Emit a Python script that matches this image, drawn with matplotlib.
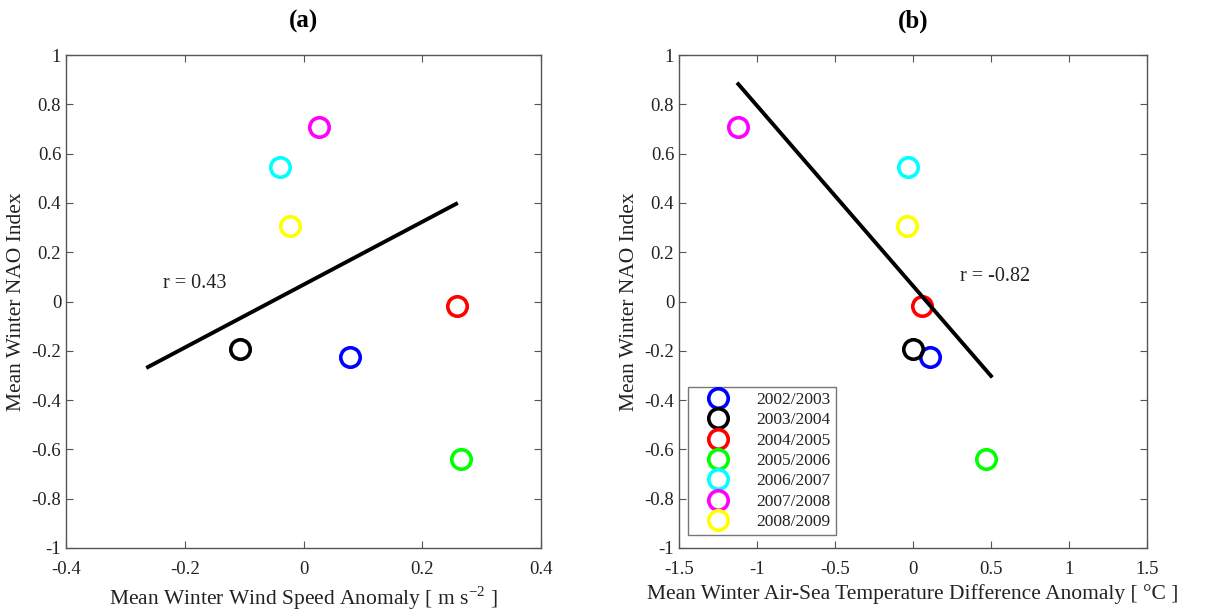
import matplotlib
matplotlib.use("Agg")
import matplotlib.pyplot as plt
import numpy as np

plt.rcParams['font.family'] = ['Liberation Serif', 'DejaVu Serif']
plt.rcParams['mathtext.fontset'] = 'custom'
plt.rcParams['mathtext.rm'] = 'Liberation Serif'

seasons = ["2002/2003", "2003/2004", "2004/2005", "2005/2006",
           "2006/2007", "2007/2008", "2008/2009"]
colors = ["#0000ff", "#000000", "#ff0000", "#00ff00", "#00ffff", "#ff00ff", "#ffff00"]
nao = [-0.224, -0.193, -0.018, -0.640, 0.545, 0.709, 0.305]
wind_anom = [0.079, -0.107, 0.258, 0.266, -0.039, 0.026, -0.022]
temp_anom = [0.11, 0.00, 0.055, 0.47, -0.03, -1.12, -0.04]

fit_a_x = [-0.262, 0.257]
fit_a_y = [-0.266, 0.396]
fit_b_x = [-1.12, 0.50]
fit_b_y = [0.882, -0.302]

W, H = 1207, 612
fig = plt.figure(figsize=(W / 100, H / 100), dpi=100)
ax1 = fig.add_axes([66 / W, 1 - 548 / H, (541 - 66) / W, (548 - 55) / H])
ax2 = fig.add_axes([679 / W, 1 - 548 / H, (1147 - 679) / W, (548 - 55) / H])

def style(ax):
    for s in ax.spines.values():
        s.set_color('#555555')
        s.set_linewidth(1.0)
    ax.tick_params(direction='in', top=True, right=True, length=5,
                   color='#555555', labelsize=13.5, labelcolor='#222222')
    ax.tick_params(axis='x', pad=9)
    ax.set_ylim(-1, 1)
    ax.set_yticks(np.arange(-1, 1.01, 0.2))
    ax.set_yticklabels(['-1', '-0.8', '-0.6', '-0.4', '-0.2', '0', '0.2', '0.4', '0.6', '0.8', '1'])

ms = 14
mew = 2.6

# Panel (a)
for xv, yv, c, lab in zip(wind_anom, nao, colors, seasons):
    ax1.plot(xv, yv, 'o', ms=ms, mfc='none', mec=c, mew=mew, label=lab)
ax1.plot(fit_a_x, fit_a_y, color='black', lw=2.8)
ax1.set_xlim(-0.4, 0.4)
ax1.set_xticks([-0.4, -0.2, 0, 0.2, 0.4])
ax1.set_xticklabels(['-0.4', '-0.2', '0', '0.2', '0.4'])
style(ax1)
ax1.text(-0.237, 0.075, 'r = 0.43', fontsize=14.5, color='#222222', va='center', ha='left')
ax1.set_xlabel('Mean Winter Wind Speed Anomaly [ m s$^{-2}$ ]', fontsize=15.5, color='#222222', labelpad=5)
ax1.set_ylabel('Mean Winter NAO Index', fontsize=15.5, color='#222222')
ax1.set_title('(a)', fontsize=18, fontweight='bold', pad=20)

# Panel (b)
handles = []
for xv, yv, c, lab in zip(temp_anom, nao, colors, seasons):
    h, = ax2.plot(xv, yv, 'o', ms=ms, mfc='none', mec=c, mew=mew, label=lab)
    handles.append(h)
ax2.plot(fit_b_x, fit_b_y, color='black', lw=2.8)
ax2.set_xlim(-1.5, 1.5)
ax2.set_xticks([-1.5, -1, -0.5, 0, 0.5, 1, 1.5])
ax2.set_xticklabels(['-1.5', '-1', '-0.5', '0', '0.5', '1', '1.5'])
style(ax2)
ax2.text(0.30, 0.10, 'r = -0.82', fontsize=14.5, color='#222222', va='center', ha='left')
ax2.set_xlabel('Mean Winter Air-Sea Temperature Difference Anomaly [ °C ]', fontsize=15.5, color='#222222', labelpad=5)
ax2.set_ylabel('Mean Winter NAO Index', fontsize=15.5, color='#222222')
ax2.set_title('(b)', fontsize=18, fontweight='bold', pad=20)

leg = ax2.legend(handles=handles, loc='lower left', bbox_to_anchor=(0.02, 0.026),
                 fontsize=12.5, frameon=True, fancybox=False, edgecolor='#555555',
                 markerscale=1.0, handlelength=2.8, handletextpad=0.8, labelspacing=0.24,
                 borderpad=0.3, borderaxespad=0)
leg.get_frame().set_linewidth(1.0)
for t in leg.get_texts():
    t.set_color('#222222')

fig.savefig('out.png', dpi=100)
